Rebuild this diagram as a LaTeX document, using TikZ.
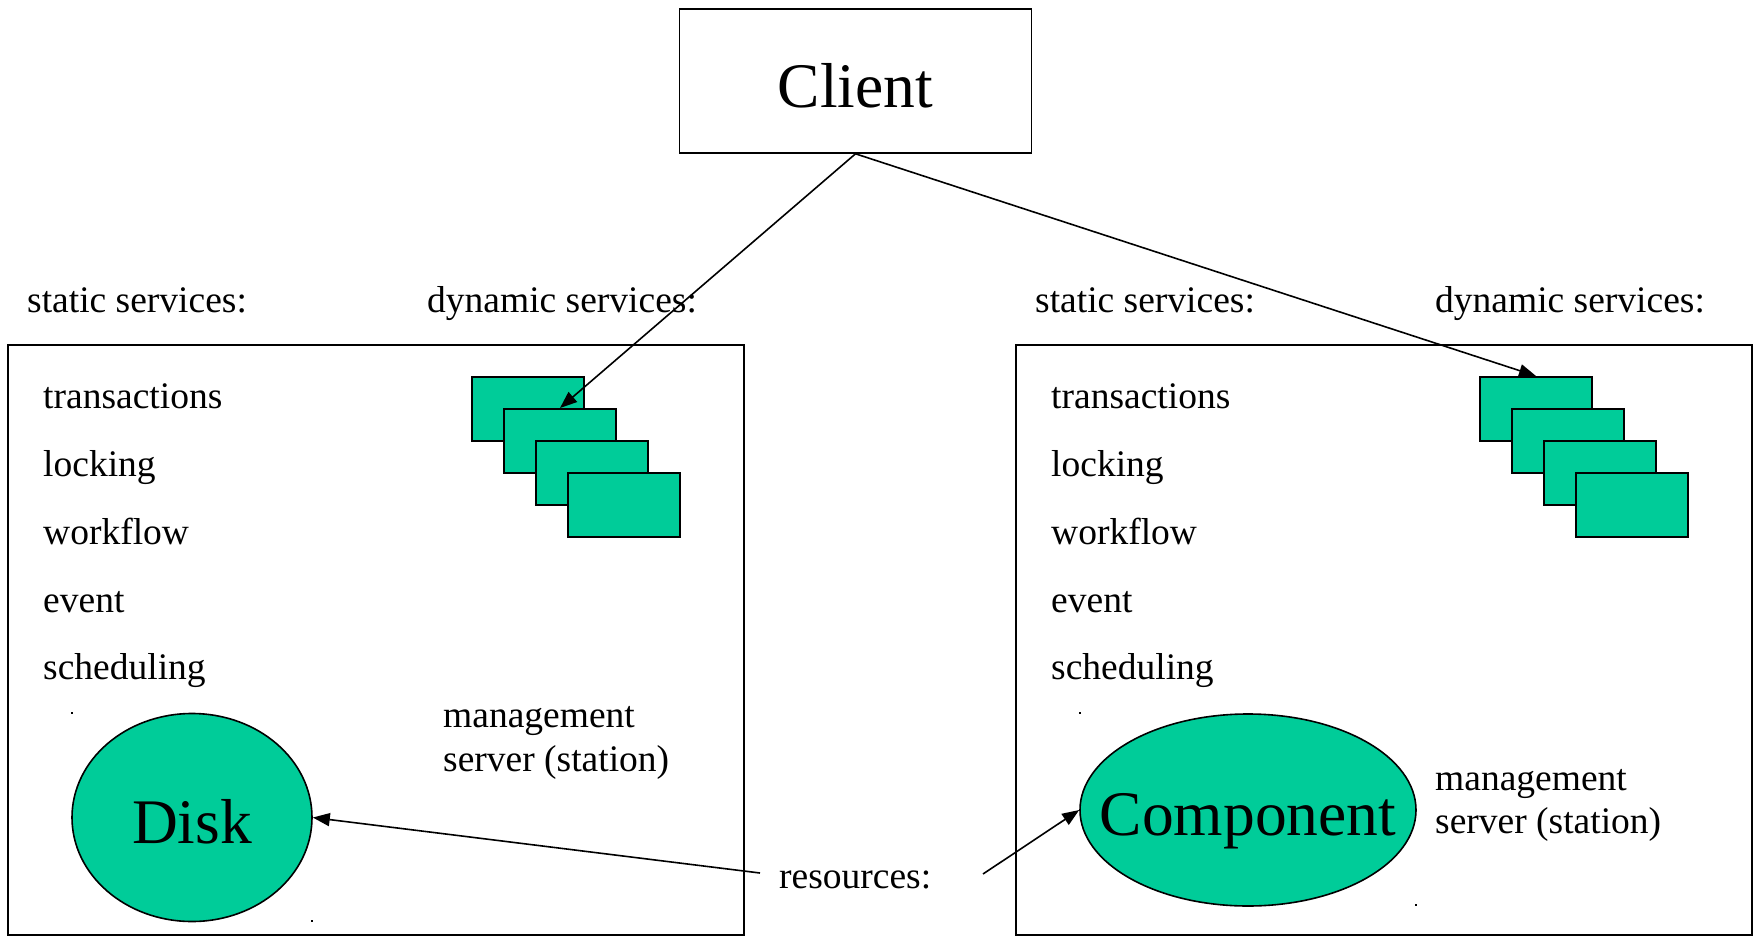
\documentclass[tikz,border=0pt]{standalone}
\usepackage{fontspec}
\setmainfont{Liberation Serif}
\usetikzlibrary{shapes.geometric,arrows.meta}
\definecolor{mint}{RGB}{0,204,153}
\begin{document}
\begin{tikzpicture}[x=1pt,y=-1pt,
  txt/.style={anchor=base west, inner sep=0pt, font=\fontsize{37.5}{44}\selectfont},
  bigtxt/.style={anchor=base, inner sep=0pt, font=\fontsize{63.5}{75}\selectfont},
  frame/.style={draw, line width=1.6pt, inner sep=0pt},
  card/.style={draw, line width=2pt, fill=mint, minimum width=112pt, minimum height=64pt, inner sep=0pt},
  blob/.style={draw, ellipse, line width=1.6pt, fill=mint, inner sep=0pt},
  arr/.style={line width=1.6pt, -{Triangle[length=17pt,width=13pt]}},
  dotmark/.style={fill=black}
]
\useasboundingbox (0,0) rectangle (1754,937);

% Client
\node[frame, minimum width=352pt, minimum height=144pt] (client) at (855.5,81) {};
\node[bigtxt] (clientlbl) at (855.5,107) {Client};

% headings
\node[txt] (statL) at (27,312) {static services:};
\node[txt] (dynL) at (427,312) {dynamic services:};
\node[txt] (statR) at (1035,312) {static services:};
\node[txt] (dynR) at (1435,312) {dynamic services:};

% stations
\node[frame, minimum width=736pt, minimum height=590pt] (boxL) at (376,640) {};
\node[frame, minimum width=736pt, minimum height=590pt] (boxR) at (1384,640) {};

% static service lists
\node[txt] (tL) at (43,408) {transactions};
\node[txt] (lL) at (43,476) {locking};
\node[txt] (wL) at (43,544) {workflow};
\node[txt] (eL) at (43,612) {event};
\node[txt] (sL) at (43,679) {scheduling};
\node[txt] (tR) at (1051,408) {transactions};
\node[txt] (lR) at (1051,476) {locking};
\node[txt] (wR) at (1051,544) {workflow};
\node[txt] (eR) at (1051,612) {event};
\node[txt] (sR) at (1051,679) {scheduling};

% dynamic service cards
\node[card] (L1) at (528,409) {};
\node[card] (L2) at (560,441) {};
\node[card] (L3) at (592,473) {};
\node[card] (L4) at (624,505) {};
\node[card] (R1) at (1536,409) {};
\node[card] (R2) at (1568,441) {};
\node[card] (R3) at (1600,473) {};
\node[card] (R4) at (1632,505) {};

% management labels
\node[txt] (mL1) at (443,727) {management};
\node[txt] (mL2) at (443,771) {server (station)};
\node[txt] (mR1) at (1435,790) {management};
\node[txt] (mR2) at (1435,833) {server (station)};

% resources
\node[blob, minimum width=240pt, minimum height=208pt] (disk) at (192,817.5) {};
\node[bigtxt] (disklbl) at (192,843) {Disk};
\node[blob, minimum width=336pt, minimum height=192pt] (comp) at (1248,810) {};
\node[bigtxt] (complbl) at (1248,835) {Component};
\node[txt] (res) at (779,888) {resources:};
\coordinate (resL) at (760,873);
\coordinate (resR) at (983,874);

% tiny marks
\fill[dotmark] (71,712) rectangle (73,714);
\fill[dotmark] (311,920) rectangle (313,922);
\fill[dotmark] (1079,712) rectangle (1081,714);
\fill[dotmark] (1415,904) rectangle (1417,906);

% connectors
\draw[arr] (client.south) -- (L2.north);
\draw[arr] (client.south) -- (R1.north);
\draw[arr] (resL) -- (disk.east);
\draw[arr] (resR) -- (comp.west);
\end{tikzpicture}
\end{document}
